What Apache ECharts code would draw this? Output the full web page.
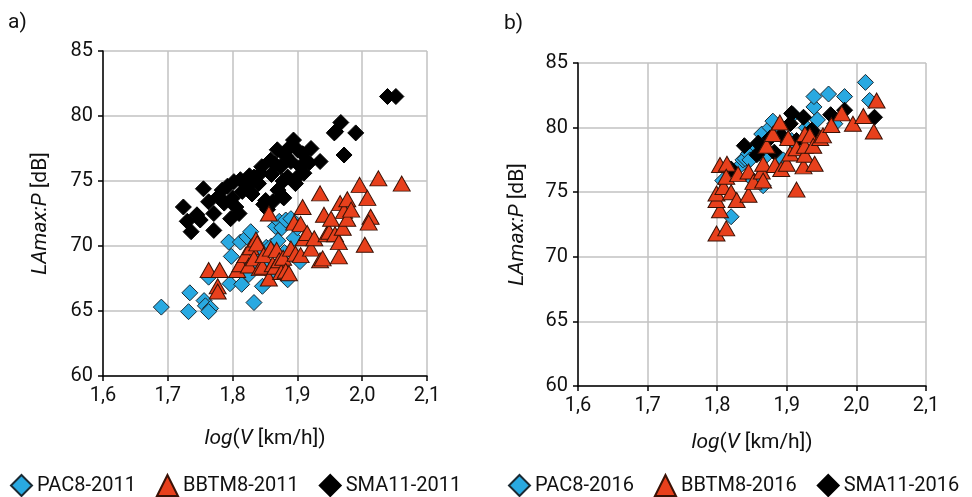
<!DOCTYPE html>
<html>
<head>
<meta charset="utf-8">
<script src="https://cdn.jsdelivr.net/npm/echarts@6/dist/echarts.min.js"></script>
<style>html,body{margin:0;padding:0;background:#fff}#c{width:972px;height:497px}</style>
</head>
<body>
<div id="c"></div>
<script>
// ---- data ----
const xTicks = [1.6, 1.7, 1.8, 1.9, 2.0, 2.1];
const yTicks = [60, 65, 70, 75, 80, 85];

const pac2011 = [[1.69,65.3],[1.734,66.4],[1.732,64.95],[1.756,65.8],[1.758,65.4],[1.766,65.2],[1.763,64.95],[1.763,67.6],[1.794,70.3],[1.798,69.2],[1.796,67.1],[1.812,70.3],[1.814,67.05],[1.822,70.7],[1.825,67.8],[1.828,71.1],[1.83,68.6],[1.833,65.65],[1.835,69.6],[1.846,66.9],[1.85,68.3],[1.852,69.9],[1.86,70.0],[1.862,68.0],[1.866,71.5],[1.87,70.4],[1.872,71.9],[1.876,71.4],[1.88,69.5],[1.882,72.0],[1.885,67.4],[1.89,72.1],[1.895,70.6],[1.9,71.4],[1.904,68.8]];

const bbtm2011 = [[1.763,68.15],[1.78,68.15],[1.777,66.9],[1.777,66.5],[1.807,68.15],[1.812,68.6],[1.82,69.3],[1.825,68.5],[1.828,69.9],[1.833,69.05],[1.836,70.5],[1.838,70.2],[1.842,68.3],[1.846,68.4],[1.848,69.3],[1.856,67.5],[1.856,72.5],[1.859,69.8],[1.862,68.6],[1.866,68.4],[1.868,69.7],[1.872,68.9],[1.875,68.0],[1.878,69.1],[1.882,68.1],[1.887,67.9],[1.89,69.8],[1.895,71.8],[1.897,69.4],[1.905,69.3],[1.908,73.0],[1.905,71.7],[1.91,70.6],[1.915,71.0],[1.921,69.8],[1.926,70.6],[1.935,68.9],[1.935,74.05],[1.939,69.05],[1.941,72.4],[1.945,70.9],[1.949,71.1],[1.952,72.1],[1.958,70.9],[1.964,69.2],[1.964,70.3],[1.966,73.3],[1.97,71.4],[1.972,72.7],[1.977,73.6],[1.977,72.1],[1.983,72.8],[1.996,74.7],[2.004,70.1],[2.008,73.7],[2.013,72.25],[2.01,71.8],[2.025,75.2],[2.061,74.8]];

const sma2011 = [[1.724,73.0],[1.73,71.9],[1.736,71.1],[1.745,72.4],[1.75,72.0],[1.755,74.4],[1.763,73.4],[1.771,71.2],[1.771,72.5],[1.778,73.8],[1.784,74.3],[1.787,73.3],[1.792,74.6],[1.797,72.1],[1.8,73.7],[1.802,74.95],[1.805,73.0],[1.81,72.5],[1.812,75.1],[1.815,74.2],[1.823,74.6],[1.826,75.4],[1.83,74.0],[1.833,75.3],[1.84,74.8],[1.843,75.6],[1.845,76.1],[1.848,73.2],[1.851,73.5],[1.854,72.8],[1.859,76.6],[1.86,75.5],[1.862,73.4],[1.865,76.3],[1.869,77.4],[1.87,74.3],[1.874,76.1],[1.877,73.8],[1.878,75.0],[1.879,73.7],[1.882,76.9],[1.885,75.3],[1.888,77.6],[1.89,76.5],[1.894,78.15],[1.897,74.8],[1.9,75.3],[1.9,77.4],[1.905,76.1],[1.908,77.1],[1.91,75.6],[1.918,76.4],[1.921,77.5],[1.935,76.5],[1.957,78.7],[1.959,78.8],[1.967,79.5],[1.972,77.0],[1.99,78.7],[2.039,81.5],[2.052,81.5]];

const pac2016 = [[1.808,75.9],[1.82,73.1],[1.832,77.0],[1.837,77.5],[1.84,77.6],[1.845,78.0],[1.847,77.5],[1.852,75.9],[1.857,78.5],[1.864,79.5],[1.866,75.5],[1.868,77.7],[1.876,80.0],[1.88,80.5],[1.89,80.0],[1.895,77.5],[1.907,79.0],[1.909,81.0],[1.928,80.0],[1.939,81.6],[1.939,82.4],[1.944,80.6],[1.96,82.6],[1.969,80.3],[1.983,82.4],[2.013,83.5],[2.019,82.1]];

const bbtm2016 = [[1.799,71.8],[1.813,72.2],[1.804,73.6],[1.799,74.4],[1.799,74.9],[1.809,75.4],[1.804,77.1],[1.814,77.2],[1.813,76.2],[1.82,75.0],[1.828,74.4],[1.83,76.4],[1.845,74.8],[1.845,76.6],[1.852,75.8],[1.864,76.6],[1.866,75.9],[1.866,77.2],[1.871,78.6],[1.88,79.5],[1.883,77.1],[1.89,80.4],[1.892,76.8],[1.9,77.2],[1.902,79.2],[1.905,78.0],[1.914,75.2],[1.914,78.4],[1.924,77.0],[1.926,77.9],[1.926,78.6],[1.926,79.5],[1.933,79.4],[1.938,78.6],[1.94,77.2],[1.948,79.2],[1.952,79.4],[1.964,80.2],[1.979,81.1],[1.995,80.3],[2.01,80.9],[2.025,79.7],[2.029,82.1]];

const sma2016 = [[1.82,76.8],[1.839,78.6],[1.857,77.9],[1.859,78.8],[1.876,79.2],[1.882,78.1],[1.892,79.4],[1.905,80.3],[1.907,81.1],[1.914,79.0],[1.924,80.8],[1.936,79.8],[1.94,79.3],[1.963,81.0],[1.983,81.35],[2.026,80.8]];

const legendA = ['PAC8-2011', 'BBTM8-2011', 'SMA11-2011'];
const legendB = ['PAC8-2016', 'BBTM8-2016', 'SMA11-2016'];

// ---- styling ----
const FONT = 'Roboto';
const BLUE = '#29a9e1';
const RED = '#e8401c';
const BLACK = '#000000';

function xAxisCfg(gridIndex, gap) {
  return {
    type: 'value', gridIndex, min: 1.6, max: 2.1, interval: 0.1,
    name: '{i|log}({i|V} [km/h])',
    nameLocation: 'middle', nameGap: gap,
    nameTextStyle: { fontFamily: FONT, fontSize: 21, color: '#111', rich: { i: { fontFamily: FONT, fontSize: 21, fontStyle: 'italic', color: '#111' } } },
    axisLine: { show: true, onZero: false, lineStyle: { color: '#000', width: 1.5 } },
    axisTick: { show: true, inside: false, length: 5, lineStyle: { color: '#000', width: 1.5 } },
    axisLabel: { fontFamily: FONT, fontSize: 20, color: '#111', margin: 10, formatter: v => v.toFixed(1).replace('.', ',') },
    splitLine: { show: true, lineStyle: { color: '#c2c2c2', width: 1.5 } }
  };
}
function yAxisCfg(gridIndex, gap) {
  return {
    type: 'value', gridIndex, min: 60, max: 85, interval: 5,
    name: '{i|LAmax:P} [dB]',
    nameLocation: 'middle', nameGap: gap, nameRotate: 90,
    nameTextStyle: { fontFamily: FONT, fontSize: 21, color: '#111', rich: { i: { fontFamily: FONT, fontSize: 21, fontStyle: 'italic', color: '#111' } } },
    axisLine: { show: true, onZero: false, lineStyle: { color: '#000', width: 1.5 } },
    axisTick: { show: true, inside: false, length: 5, lineStyle: { color: '#000', width: 1.5 } },
    axisLabel: { fontFamily: FONT, fontSize: 20, color: '#111', margin: 10 },
    splitLine: { show: true, lineStyle: { color: '#c2c2c2', width: 1.5 } }
  };
}
function sc(name, data, idx, kind) {
  const base = { name, type: 'scatter', xAxisIndex: idx, yAxisIndex: idx, data };
  if (kind === 'pac') return Object.assign(base, { symbol: 'diamond', symbolSize: 16, itemStyle: { color: BLUE, borderColor: '#1b2a33', borderWidth: 1, opacity: 1 } });
  if (kind === 'bbtm') return Object.assign(base, { symbol: 'triangle', symbolSize: [17, 15], itemStyle: { color: RED, borderColor: '#3a1206', borderWidth: 1, opacity: 1 } });
  return Object.assign(base, { symbol: 'diamond', symbolSize: 16, itemStyle: { color: BLACK, borderColor: '#000', borderWidth: 1, opacity: 1 } });
}

const chart = echarts.init(document.getElementById('c'), null, { renderer: 'canvas' });
chart.setOption({
  animation: false,
  backgroundColor: '#fff',
  textStyle: { fontFamily: FONT },
  graphic: [
    { type: 'text', left: 8, top: 12, style: { text: 'a)', font: '21px Roboto', fill: '#111' } },
    { type: 'text', left: 504, top: 13, style: { text: 'b)', font: '21px Roboto', fill: '#111' } }
  ],
  grid: [
    { left: 103, right: 545, top: 51, bottom: 121 },
    { left: 578, right: 46, top: 63, bottom: 111 }
  ],
  xAxis: [xAxisCfg(0, 52), xAxisCfg(1, 46)],
  yAxis: [yAxisCfg(0, 52), yAxisCfg(1, 50)],
  legend: [
    { data: legendA, left: 5, top: 469, width: 480, itemWidth: 21, itemHeight: 21, itemGap: 20, textStyle: { fontFamily: FONT, fontSize: 20, color: '#111' } },
    { data: legendB, left: 503, top: 469, width: 469, itemWidth: 21, itemHeight: 21, itemGap: 20, textStyle: { fontFamily: FONT, fontSize: 20, color: '#111' } }
  ],
  series: [
    sc('SMA11-2011', sma2011, 0, 'sma'),
    sc('PAC8-2011', pac2011, 0, 'pac'),
    sc('BBTM8-2011', bbtm2011, 0, 'bbtm'),
    sc('PAC8-2016', pac2016, 1, 'pac'),
    sc('SMA11-2016', sma2016, 1, 'sma'),
    sc('BBTM8-2016', bbtm2016, 1, 'bbtm')
  ]
});
</script>
</body>
</html>
